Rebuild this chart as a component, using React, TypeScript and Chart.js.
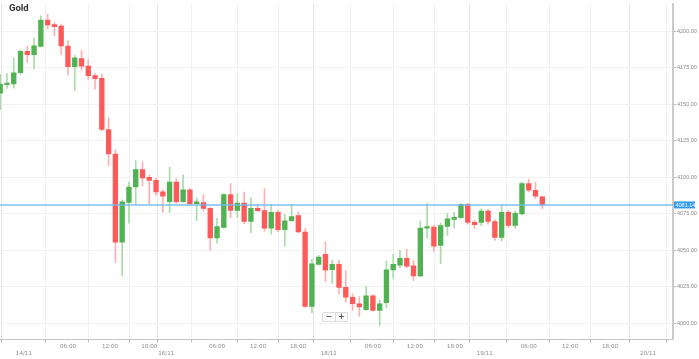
import React, { useEffect, useRef } from "react";
import { Chart, registerables } from "chart.js";
Chart.register(...registerables);

const title = "Gold";
const opens = [4157.6, 4163.5, 4163.9, 4171.6, 4186.2, 4184, 4189.6, 4207.6, 4204.5, 4203.6, 4189.9, 4175.7, 4181.3, 4176.1, 4169.6, 4167.8, 4132.8, 4116, 4055.6, 4082.8, 4093.4, 4105.4, 4100, 4098, 4090.1, 4083.3, 4096.8, 4083.3, 4091.4, 4082, 4082.8, 4078.8, 4058.5, 4065.7, 4088.2, 4077.4, 4082.4, 4069.8, 4078.8, 4077.2, 4065.3, 4076.1, 4064.2, 4070.3, 4073.9, 4062.6, 4011.7, 4040.5, 4047.3, 4036.9, 4040.5, 4024.7, 4018, 4013.5, 4009.5, 4018.9, 4009, 4014.2, 4036.7, 4040, 4044.6, 4039.4, 4032.6, 4065.3, 4066, 4053.4, 4066.4, 4071.3, 4072.5, 4081.5, 4069.3, 4069.1, 4077, 4069.8, 4059, 4076.1, 4067.1, 4075, 4095.7, 4091.2, 4086.7];
const highs = [4170.5, 4171, 4181.8, 4187, 4189.9, 4195.3, 4210.5, 4211.7, 4206, 4204.9, 4193.6, 4183.5, 4186.9, 4180.6, 4171.1, 4170.3, 4140.7, 4118.9, 4084.7, 4096.8, 4111.5, 4110.8, 4101.6, 4099.5, 4091.6, 4107, 4099, 4101.8, 4092.3, 4086, 4088.2, 4079.5, 4072, 4089, 4095.7, 4089, 4090, 4086, 4081.5, 4092.3, 4081.5, 4077.7, 4074.7, 4081.5, 4076.5, 4064.9, 4043.9, 4046.6, 4055.8, 4043.2, 4043.2, 4036, 4020.3, 4018.4, 4025.5, 4019.6, 4016.2, 4042.7, 4047.3, 4050, 4050.7, 4043, 4070.3, 4082.2, 4067.1, 4068.7, 4075.4, 4076.1, 4082.2, 4082.2, 4071, 4078.4, 4078.2, 4071, 4081.1, 4077.7, 4077, 4096.8, 4098.6, 4096.8, 4087.2];
const lows = [4146.4, 4160.8, 4161, 4170.5, 4178.6, 4174, 4189.2, 4201.6, 4197, 4184, 4170, 4159.5, 4173.4, 4167.1, 4160.3, 4131.8, 4108.1, 4041.6, 4032.6, 4068.7, 4081.5, 4094.1, 4081.5, 4087.8, 4076, 4076, 4082.2, 4082.8, 4081.5, 4070.3, 4077, 4050, 4055, 4065.3, 4072.5, 4072.5, 4068.4, 4062, 4076.5, 4063, 4061.2, 4062.6, 4052.9, 4069.8, 4062, 4011, 4007.2, 4040, 4028.8, 4027.4, 4020.3, 4014.6, 4008.9, 4004.9, 4008.9, 4008.5, 3998.4, 4010.8, 4031.1, 4038.2, 4038.2, 4029.5, 4032, 4058.5, 4049.5, 4041, 4060.3, 4065.3, 4072, 4068, 4065.3, 4066.9, 4068, 4056.8, 4056.3, 4065.7, 4065.3, 4074.3, 4090, 4085.5, 4078.4];
const closes = [4163.9, 4164.3, 4171.6, 4186.2, 4184, 4190.1, 4207.6, 4204.3, 4203.1, 4189.9, 4175.7, 4181.8, 4176.1, 4169.6, 4167.6, 4132.8, 4116, 4055.6, 4083.3, 4093.4, 4105.4, 4099.7, 4098, 4090.1, 4087.2, 4096.8, 4083.3, 4091.4, 4081.8, 4083.3, 4078.8, 4058.5, 4066.4, 4088.2, 4077.4, 4082.4, 4069.8, 4078.8, 4077.2, 4065.3, 4076.1, 4064.2, 4070.3, 4073.2, 4062.6, 4011.7, 4040.9, 4045.5, 4036.5, 4040.5, 4024.7, 4018, 4013.5, 4011.3, 4018.9, 4009, 4013.5, 4036.7, 4040.5, 4044.6, 4039.3, 4032.6, 4065.3, 4066.2, 4052.9, 4067.1, 4071.6, 4072.7, 4081.5, 4069.1, 4067.6, 4077, 4069.8, 4059, 4076.1, 4067.1, 4075.4, 4095.7, 4091.2, 4087.2, 4081.14];
const yTickValues = [4000, 4025, 4050, 4075, 4100, 4125, 4150, 4175, 4200];
const xTickPositions = [3.5, 10, 16.2, 22, 24.5, 32, 38.05, 43.95, 48.5, 55, 61.2, 67.1, 71.5, 78, 84.1, 90, 95.6];
const xTickLabels = ["14/11", "06:00", "12:00", "18:00", "16/11", "06:00", "12:00", "18:00", "18/11", "06:00", "12:00", "18:00", "19/11", "06:00", "12:00", "18:00", "20/11"];
const currentPrice = 4081.14;

const UP = "#52b152";
const DOWN = "#ff5a5a";
const UP_WICK = "#a9dca9";
const DOWN_WICK = "#ffb0b0";

const isUp = (i: number) => closes[i] >= opens[i];
const isDate = (s: string) => s.indexOf("/") >= 0;

export default function App() {
  const ref = useRef<HTMLCanvasElement | null>(null);
  useEffect(() => {
    if (!ref.current) return;
    const priceLine = {
      id: "priceLine",
      afterDatasetsDraw(chart: any) {
        const { ctx, chartArea, scales } = chart;
        const y = scales.y.getPixelForValue(currentPrice);
        ctx.save();
        ctx.strokeStyle = "rgba(110,185,240,0.9)";
        ctx.lineWidth = 1.5;
        ctx.beginPath();
        ctx.moveTo(chartArea.left, y);
        ctx.lineTo(chartArea.right, y);
        ctx.stroke();
        ctx.restore();
      },
      afterDraw(chart: any) {
        const { ctx, chartArea, scales } = chart;
        const y = scales.y.getPixelForValue(currentPrice);
        ctx.save();
        ctx.fillStyle = "#2f9bf0";
        ctx.fillRect(chartArea.right + 1, y - 3.5, 21, 7);
        ctx.fillStyle = "#ffffff";
        ctx.font = "5.5px 'Liberation Sans', Arial, sans-serif";
        ctx.textBaseline = "middle";
        ctx.textAlign = "left";
        ctx.fillText(currentPrice.toFixed(2), chartArea.right + 2.5, y + 0.3);
        ctx.restore();
      },
    };
    const chart = new Chart(ref.current, {
      type: "bar",
      data: {
        datasets: [
          {
            label: "body",
            order: 1,
            data: opens.map((o, i) => ({ x: i, y: [o, closes[i]] })) as any,
            backgroundColor: (c: any) => (isUp(c.dataIndex) ? UP : DOWN),
            barThickness: 4.7,
            minBarLength: 1.5,
            grouped: false,
          } as any,
          {
            label: "wick",
            order: 2,
            data: lows.map((l, i) => ({ x: i, y: [l, highs[i]] })) as any,
            backgroundColor: (c: any) => (isUp(c.dataIndex) ? UP_WICK : DOWN_WICK),
            barThickness: 1,
            grouped: false,
          } as any,
        ],
      },
      options: {
        animation: false,
        responsive: false,
        maintainAspectRatio: false,
        layout: { padding: 0 },
        plugins: { legend: { display: false }, tooltip: { enabled: false }, title: { display: false } },
        scales: {
          x: {
            type: "linear",
            min: -0.03,
            max: 99.29,
            offset: false,
            afterBuildTicks: (s: any) => {
              s.ticks = xTickPositions.map((v) => ({ value: v }));
            },
            afterFit: (s: any) => {
              s.height = 20;
            },
            ticks: {
              autoSkip: false,
              maxRotation: 0,
              minRotation: 0,
              padding: 0,
              color: "#8a8a8a",
              font: { size: 5.6, family: "'DejaVu Sans', sans-serif", lineHeight: 1.3 },
              callback: (_v: any, i: number) => {
                const l = xTickLabels[i];
                return isDate(l) ? ["", l] : l;
              },
            },
            grid: {
              color: (c: any) => (c.index !== undefined && xTickLabels[c.index] && isDate(xTickLabels[c.index]) ? "#e4e4e4" : "#f1f1f1"),
              lineWidth: 1,
              drawTicks: true,
              tickLength: 3.5,
              tickColor: "#b5b5b5",
            },
            border: { display: true, color: "#c4c4c4", width: 1 },
          },
          y: {
            type: "linear",
            position: "right",
            min: 3989.4,
            max: 4218.45,
            afterBuildTicks: (s: any) => {
              s.ticks = yTickValues.map((v) => ({ value: v }));
            },
            afterFit: (s: any) => {
              s.width = 26;
            },
            ticks: {
              padding: 1,
              color: "#8a8a8a",
              font: { size: 5.5, family: "'Liberation Sans', Arial, sans-serif" },
              callback: (v: any) => Number(v).toFixed(2),
            },
            grid: {
              color: "#f2f2f2",
              lineWidth: 1,
              drawTicks: true,
              tickLength: 3,
              tickColor: "#b5b5b5",
            },
            border: { display: true, color: "#cbcbcb", width: 2 },
          },
        },
      } as any,
      plugins: [priceLine],
    });
    return () => chart.destroy();
  }, []);

  return (
    <div style={{ position: "fixed", left: 0, top: 0, width: 699, height: 359, background: "#ffffff", overflow: "hidden" }}>
      <canvas ref={ref} width={699} height={359} style={{ position: "absolute", left: 0, top: 0, width: 699, height: 359 }} />
      <div
        style={{
          position: "absolute",
          left: 9,
          top: 2,
          fontFamily: "Roboto, 'Noto Sans', sans-serif",
          fontWeight: 700,
          fontSize: 9.5,
          color: "#333333",
        }}
      >
        {title}
      </div>
      <div
        style={{
          position: "absolute",
          left: 322,
          top: 312,
          width: 26,
          height: 10,
          border: "1px solid #dddddd",
          borderRadius: 2,
          background: "#fafafa",
          display: "flex",
          boxSizing: "border-box",
          fontFamily: "'DejaVu Sans', sans-serif",
          fontSize: 8,
          fontWeight: 700,
          color: "#555555",
          lineHeight: "8px",
        }}
      >
        <span style={{ flex: 1, textAlign: "center", borderRight: "1px solid #dddddd" }}>−</span>
        <span style={{ flex: 1, textAlign: "center" }}>+</span>
      </div>
    </div>
  );
}
